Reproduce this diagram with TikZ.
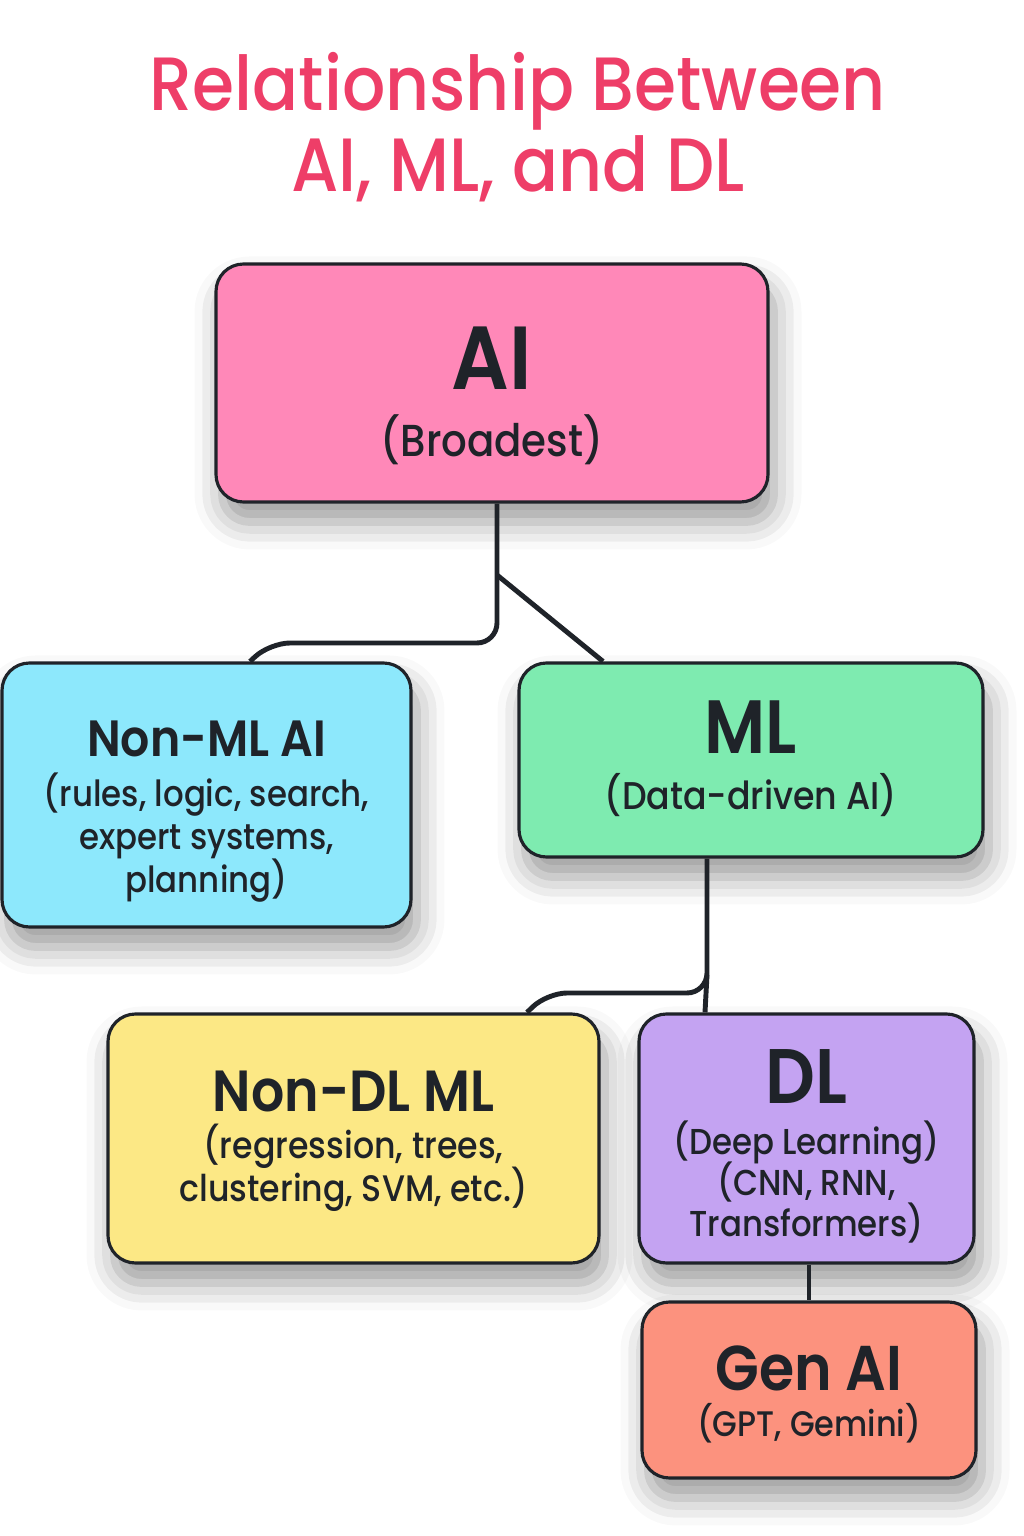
\documentclass[tikz,border=0pt]{standalone}
\usepackage{fontspec}
\setmainfont{Poppins Medium}[FakeStretch=0.9,BoldFont={Poppins SemiBold}]
\usetikzlibrary{positioning,calc,shadows.blur}
\lineskiplimit=-100pt

\definecolor{titlered}{HTML}{EE3E68}
\definecolor{ink}{HTML}{1F2329}
\definecolor{aipink}{HTML}{FF88B8}
\definecolor{nonmlblue}{HTML}{8DE8FC}
\definecolor{mlgreen}{HTML}{7EEBB0}
\definecolor{nondlyellow}{HTML}{FCE885}
\definecolor{dlpurple}{HTML}{C4A3F2}
\definecolor{gensalmon}{HTML}{FC927E}

\begin{document}
\begin{tikzpicture}[x=0.02cm,y=0.02cm,
    box/.style={draw=ink,line width=1.8pt,rounded corners=0.55cm,align=center,
        text=ink,inner sep=0pt,font=\fontsize{21}{24.4}\selectfont,text height=0pt,text depth=0pt,
        blur shadow={shadow xshift=0.12cm,shadow yshift=-0.4cm,shadow blur radius=0.55cm,shadow opacity=40}},
    link/.style={draw=ink,line width=2.8pt,rounded corners=0.4cm}]
    \useasboundingbox (0,0) rectangle (1024,1536);
    \node[text=titlered,align=center,font=\fontsize{43}{46}\selectfont] (title) at (518,1409)
        {Relationship Between\\AI, ML, and DL};
    \node[box,fill=aipink,minimum width=552*0.02cm,minimum height=238*0.02cm,font=\fontsize{25.5}{28}\selectfont,text height=83.9pt] (ai) at (492,1153)
        {{\fontsize{51}{52}\selectfont\bfseries AI}\\[10pt](Broadest)};
    \node[box,fill=nonmlblue,minimum width=409*0.02cm,minimum height=264*0.02cm,font=\fontsize{20.5}{24.4}\selectfont,text height=111.1pt] (nonml) at (206.5,741)
        {{\fontsize{29}{30}\selectfont\bfseries Non-ML AI}\\[4.5pt](rules, logic, search,\\expert systems,\\planning)};
    \node[box,fill=mlgreen,minimum width=464*0.02cm,minimum height=194*0.02cm,font=\fontsize{22}{25}\selectfont,text height=56.7pt] (ml) at (751,776)
        {{\fontsize{43}{44}\selectfont\bfseries ML}\\[7.3pt](Data-driven AI)};
    \node[box,fill=nondlyellow,minimum width=491*0.02cm,minimum height=249*0.02cm,font=\fontsize{21}{24.4}\selectfont,text height=72pt] (nondl) at (353.5,397.5)
        {{\fontsize{33}{34}\selectfont\bfseries Non-DL ML}\\[2.8pt](regression, trees,\\clustering, SVM, etc.)};
    \node[box,fill=dlpurple,minimum width=335*0.02cm,minimum height=249*0.02cm,font=\fontsize{20.5}{23.5}\selectfont,text height=111.7pt] (dl) at (806.5,397.5)
        {{\fontsize{44}{45}\selectfont\bfseries DL}\\[5.4pt](Deep Learning)\\(CNN, RNN,\\Transformers)};
    \node[box,fill=gensalmon,minimum width=334*0.02cm,minimum height=176*0.02cm,font=\fontsize{20.2}{24}\selectfont,text height=53.3pt] (genai) at (809,146)
        {{\fontsize{36}{37}\selectfont\bfseries Gen AI}\\[2.6pt](GPT, Gemini)};
    % branches
    \coordinate (j1) at (497,961);
    \coordinate (j2) at (707,561);
    \draw[link] (j1 |- ai.south) -- (497,893) -- (270,893) -- ($(nonml.north)+(43.5,0)$);
    \draw[link] (j1) -- ($(ml.north)+(-148,0)$);
    \draw[link] (j2 |- ml.south) -- (707,543) -- (547,543) -- ($(nondl.north)+(173.5,0)$);
    \draw[link] (j2) -- ($(dl.north)+(-101.5,0)$);
    \draw[link] (genai.north |- dl.south) -- (genai.north);
\end{tikzpicture}
\end{document}
